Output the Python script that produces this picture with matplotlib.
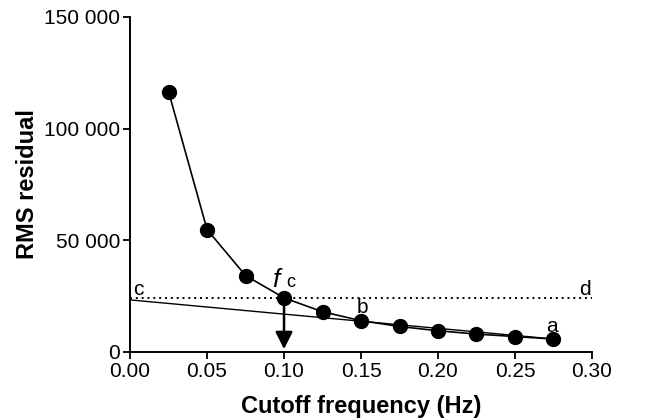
import matplotlib.pyplot as plt
from matplotlib.ticker import FuncFormatter

plt.rcParams['font.family'] = ['Liberation Sans', 'DejaVu Sans']
plt.rcParams['mathtext.fontset'] = 'custom'
plt.rcParams['mathtext.it'] = 'Liberation Sans:italic'

# residual analysis data
cutoff = [0.025, 0.05, 0.075, 0.10, 0.125, 0.15, 0.175, 0.20, 0.225, 0.25, 0.275]
rms = [116500, 54800, 34200, 24200, 18000, 14000, 11400, 9500, 8000, 6900, 5800]

# regression line c-a and threshold line c-d
line_x = [0.0, 0.275]
line_y = [23300, 5800]
fc_level = 24200
fc = 0.10

fig = plt.figure(figsize=(6.67, 4.2), dpi=100)
ax = fig.add_axes([0.195, 0.162, 0.6925, 0.798])

ax.plot(cutoff, rms, 'k-', marker='o', markersize=10, linewidth=1.2, zorder=3)
ax.plot(line_x, line_y, 'k-', linewidth=1.0)
ax.plot([0.0, 0.30], [fc_level, fc_level], color='k', linestyle=(0, (1, 2)), linewidth=1.4)
ax.annotate('', xy=(fc, 0), xytext=(fc, fc_level),
            arrowprops=dict(arrowstyle='-|>', color='k', lw=1.8, mutation_scale=26))

ax.text(0.0052, 27800, 'c', fontsize=15, ha='center', va='center')
ax.text(0.2955, 27800, 'd', fontsize=15, ha='center', va='center')
ax.text(0.1506, 20100, 'b', fontsize=15, ha='center', va='center')
ax.text(0.274, 11200, 'a', fontsize=15, ha='center', va='center')
ax.text(0.0961, 32200, '$f$', fontsize=19, ha='center', va='center')
ax.text(0.1045, 30900, 'c', fontsize=13, ha='center', va='center')

ax.set_xlim(0, 0.30)
ax.set_ylim(0, 150000)
ax.set_xticks([0.0, 0.05, 0.10, 0.15, 0.20, 0.25, 0.30])
ax.set_yticks([0, 50000, 100000, 150000])
ax.xaxis.set_major_formatter(FuncFormatter(lambda v, p: '%.2f' % v))
ax.yaxis.set_major_formatter(FuncFormatter(lambda v, p: '{:,}'.format(int(v)).replace(',', ' ')))
ax.tick_params(labelsize=15, width=1.3, length=5, pad=2)
ax.spines['top'].set_visible(False)
ax.spines['right'].set_visible(False)
ax.spines['left'].set_linewidth(1.4)
ax.spines['bottom'].set_linewidth(1.4)

ax.set_xlabel('Cutoff frequency (Hz)', fontsize=17, fontweight='bold', labelpad=10)
ax.set_ylabel('RMS residual', fontsize=17, fontweight='bold', labelpad=4)

plt.savefig('out.png')
plt.close()
